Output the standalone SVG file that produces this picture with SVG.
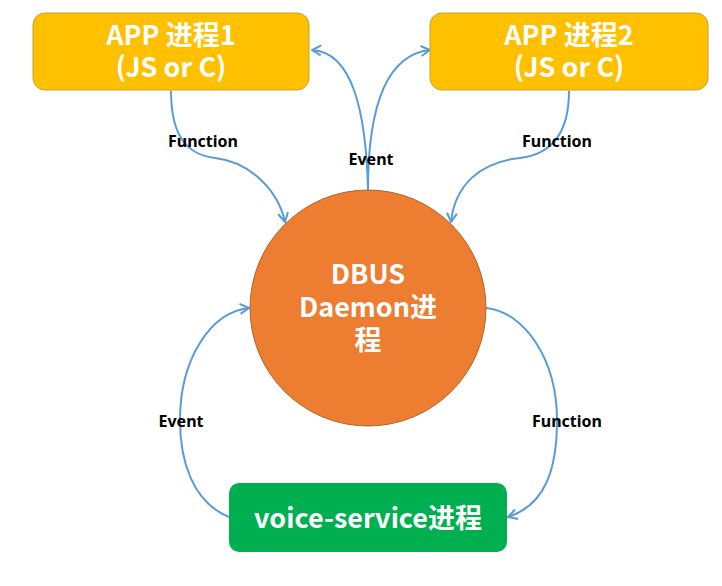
<svg xmlns="http://www.w3.org/2000/svg" width="722" height="586" viewBox="0 0 722 586">
<style>
.node text{font-family:"Noto Sans CJK SC","Noto Sans",sans-serif;font-weight:bold;fill:#fff;font-size:27px;text-anchor:middle}
.lbl{font-family:"Noto Sans","Noto Sans CJK SC",sans-serif;font-weight:bold;fill:#000;font-size:16px;text-anchor:middle}
.edge{fill:none;stroke:#5B9BD5;stroke-width:2;marker-end:url(#arr)}
</style>
<defs>
<marker id="arr" viewBox="0 0 12 12" refX="11" refY="6" markerWidth="12" markerHeight="12" markerUnits="userSpaceOnUse" orient="auto">
<path d="M2,1 L11,6 L2,11" fill="none" stroke="#5B9BD5" stroke-width="2"/>
</marker>
</defs>
<rect width="722" height="586" fill="#fff"/>
<g id="connectors">
<path class="edge" d="M171,91 C171,140 190,155 215,158 C250,162 278,190 285,222"/>
<path class="edge" d="M368,190 C366,110 352,52 312,50"/>
<path class="edge" d="M368,190 C368,110 385,55 430,50"/>
<path class="edge" d="M569,91 C569,140 545,155 520,158 C480,162 455,185 451,222"/>
<path class="edge" d="M229,517 C192,502 180,460 180,420 C180,360 210,312 249,308"/>
<path class="edge" d="M486,308 C525,312 557,360 557,420 C557,470 545,505 508,517"/>
<text class="lbl" x="203" y="147">Function</text>
<text class="lbl" x="371" y="165">Event</text>
<text class="lbl" x="557" y="147">Function</text>
<text class="lbl" x="181" y="427">Event</text>
<text class="lbl" x="567" y="427">Function</text>
</g>
<g id="app1" class="node">
<rect x="33" y="13" width="276" height="77" rx="12" fill="#FFC000" stroke="#C9A227" stroke-width="1"/>
<text x="171" y="45">APP 进程1</text>
<text x="171" y="77">(JS or C)</text>
</g>
<g id="app2" class="node">
<rect x="430" y="13" width="278" height="77" rx="12" fill="#FFC000" stroke="#C9A227" stroke-width="1"/>
<text x="569" y="45">APP 进程2</text>
<text x="569" y="77">(JS or C)</text>
</g>
<g id="dbus" class="node">
<circle cx="368" cy="308" r="118" fill="#ED7D31" stroke="#B0652A" stroke-width="1"/>
<text x="368" y="284">DBUS</text>
<text x="368" y="317">Daemon进</text>
<text x="368" y="350">程</text>
</g>
<g id="voice" class="node">
<rect x="229" y="483" width="278" height="69" rx="10" fill="#00B050"/>
<text x="368" y="528">voice-service进程</text>
</g>
</svg>
